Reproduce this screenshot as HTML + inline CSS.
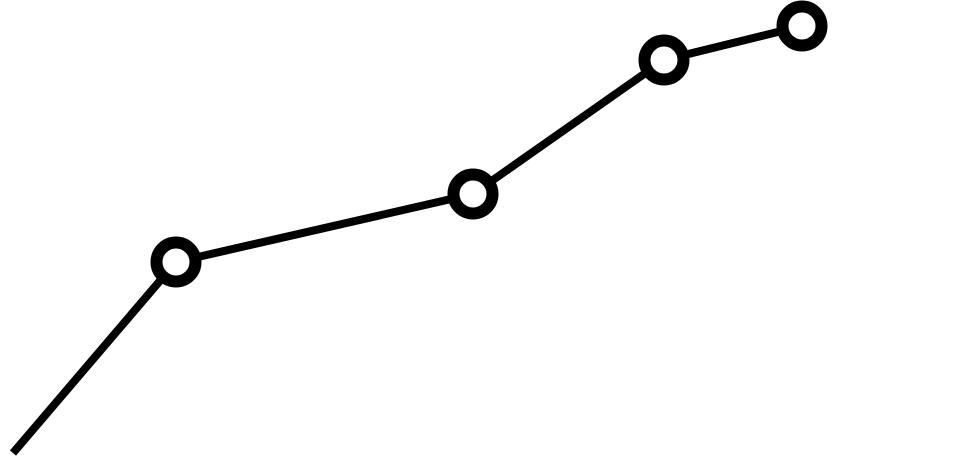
<!DOCTYPE html>
<html><head><style>html,body{margin:0;padding:0;background:#fff}</style></head>
<body>
<svg width="964" height="465" viewBox="0 0 964 465" xmlns="http://www.w3.org/2000/svg">
<polyline points="13,453 176,262 473,194 664,60 802,26" fill="none" stroke="#000" stroke-width="8"/>
<g fill="#fff" stroke="#000" stroke-width="12">
<circle cx="176" cy="262" r="19.5"/>
<circle cx="473" cy="194" r="19.5"/>
<circle cx="664" cy="60" r="19.5"/>
<circle cx="802" cy="26" r="19.5"/>
</g>
</svg>
</body></html>
